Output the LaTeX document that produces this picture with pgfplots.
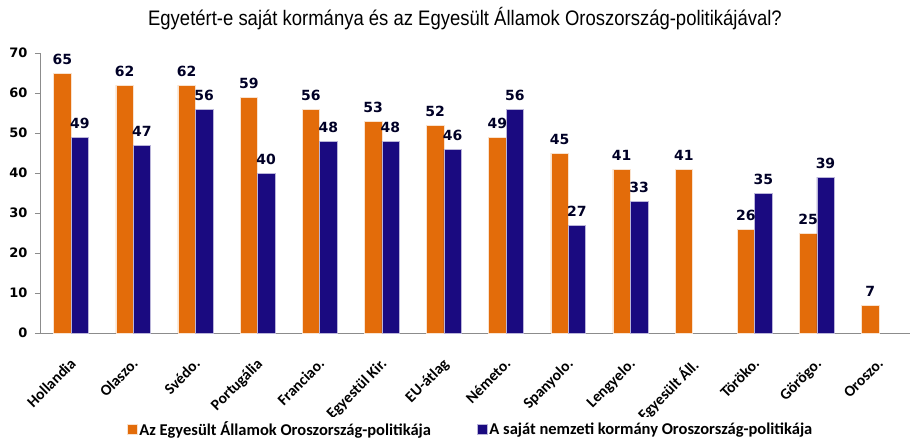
\documentclass[border=0pt]{standalone}
\usepackage{pgfplots}
\pgfplotsset{compat=1.18}
\usepackage{fontspec}
\setmainfont{Carlito}
\newfontfamily\numfont{DejaVu Sans}
\newfontfamily\titlefont[FakeStretch=0.88]{Liberation Sans}
\definecolor{orng}{RGB}{227,108,10}
\definecolor{dblue}{RGB}{26,10,128}
\begin{document}
\begin{tikzpicture}
\useasboundingbox (0pt,0pt) rectangle (910pt,440pt);
\node[anchor=center] at (465pt,421pt) {\titlefont\fontsize{21}{24}\selectfont Egyetért-e saját kormánya és az Egyesült Államok Oroszország-politikájával?};
\begin{axis}[
  at={(40pt,107pt)}, anchor=south west,
  scale only axis, width=870pt, height=280pt,
  ymin=0, ymax=70, ytick={0,10,...,70},
  xmin=-0.5, xmax=13.5,
  axis x line*=bottom, axis y line*=left,
  axis line style={draw=black!45},
  xtick={0,...,13},
  xticklabels={Hollandia,Olaszo.,Svédo.,Portugália,Franciao.,Egyestül Kir.,EU-átlag,Németo.,Spanyolo.,Lengyelo.,Egyesült Áll.,Töröko.,Görögo.,Oroszo.},
  xticklabel style={xshift=-2pt, yshift=-19pt, rotate=45, anchor=north east, font=\fontsize{15.5}{17}\selectfont\bfseries, inner sep=0pt},
  yticklabel style={font=\numfont\bfseries\fontsize{13}{15}\selectfont, xshift=-4pt},
  /pgf/number format/assume math mode=true,
  extra x ticks={-0.5,0.5,...,13.5}, extra x tick labels={},
  extra x tick style={major tick length=5pt, tick style={draw=black!45}},
  major x tick style={draw=none},
  ytick style={draw=black!45}, major tick length=5pt,
  tick align=outside,
  ybar, bar width=0.28,
  nodes near coords,
  every node near coord/.append style={font=\numfont\bfseries\fontsize{14}{16}\selectfont, text=black!85!blue, yshift=5pt},
  legend columns=2,
  legend style={draw=none, at={(0.495,-0.343)}, anchor=center, font=\fontsize{16.5}{18}\selectfont\bfseries, /tikz/every even column/.append style={column sep=44pt}},
  legend image code/.code={\fill[#1] (0pt,-5pt) rectangle (10pt,5pt);},
  clip=false,
]
\addplot[fill=orng, draw=white!80!orng, bar shift=-0.14] coordinates {
(0,65) (1,62) (2,62) (3,59) (4,56) (5,53) (6,52) (7,49) (8,45) (9,41) (10,41) (11,26) (12,25) (13,7)};
\addlegendentry{Az Egyesült Államok Oroszország-politikája}
\addplot[fill=dblue, draw=white!70!dblue, bar shift=0.14] coordinates {
(0,49) (1,47) (2,56) (3,40) (4,48) (5,48) (6,46) (7,56) (8,27) (9,33) (11,35) (12,39)};
\addlegendentry{A saját nemzeti kormány Oroszország-politikája}
\end{axis}
\end{tikzpicture}
\end{document}
